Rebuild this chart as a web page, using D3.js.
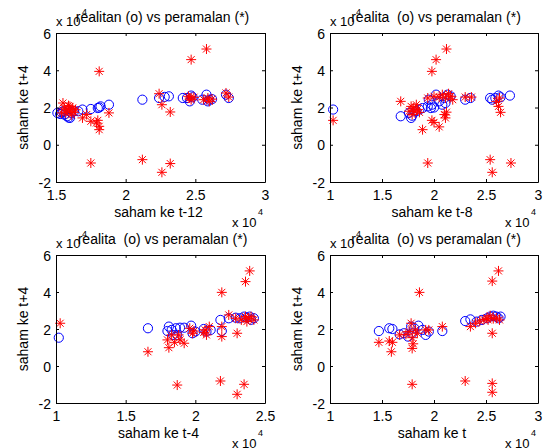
<!DOCTYPE html>
<html><head><meta charset="utf-8">
<script src="https://cdn.jsdelivr.net/npm/d3@7"></script>
<style>
body{margin:0;background:#fff;}
text{font-family:"Liberation Sans",Arial,sans-serif;fill:#000;}
</style></head>
<body><svg id="c" width="543" height="448"></svg>
<script>
// values in units of 10^4
const yTicks = [-2, 0, 2, 4, 6];
const xTicks1 = [1.5, 2, 2.5, 3];
const xTicks2 = [1, 1.5, 2, 2.5, 3];
const xTicks3 = [1, 1.5, 2, 2.5];
const xTicks4 = [1, 1.5, 2, 2.5, 3];
const titles = ["realitan (o) vs peramalan (*)", "realita  (o) vs peramalan (*)", "realita  (o) vs peramalan (*)", "realita  (o) vs peramalan (*)"];
const xLabels = ["saham ke t-12", "saham ke t-8", "saham ke t-4", "saham ke t"];
const yLabel = "saham ke t+4";

const real1 = [[1.51,1.71],[1.53,1.65],[1.54,1.74],[1.55,1.80],[1.56,1.62],[1.58,1.53],[1.59,1.46],[1.60,1.44],[1.61,1.71],[1.63,1.80],[1.66,1.80],[1.69,1.89],[1.75,1.92],[1.80,1.97],[1.82,2.06],[1.81,2.0],[1.88,2.15],
[2.12,2.42],[2.24,2.51],[2.28,2.57],[2.31,2.60],[2.41,2.51],[2.44,2.51],[2.47,2.64],[2.46,2.33],[2.48,2.55],[2.55,2.42],[2.58,2.69],[2.60,2.42],[2.59,2.33],[2.62,2.45],[2.72,2.69],[2.74,2.51]];
const pred1 = [[1.81,3.94],[2.47,4.57],[2.58,5.14],[1.75,-0.98],[2.12,-0.80],[2.26,-1.48],[2.32,-1.01],
[1.55,2.24],[1.56,1.97],[1.58,1.88],[1.60,1.80],[1.54,1.71],[1.57,1.71],[1.63,1.74],[1.64,1.88],[1.60,2.06],[1.62,1.97],[1.59,2.10],[1.61,1.60],
[1.69,1.44],[1.75,1.26],[1.80,1.31],[1.81,0.99],[1.81,0.81],[1.88,1.71],[1.79,1.17],[1.72,1.62],
[2.24,2.74],[2.26,2.15],[2.32,1.76],[2.45,2.60],[2.46,2.51],[2.47,2.42],[2.49,2.55],[2.56,2.42],[2.59,2.51],[2.60,2.33],[2.62,2.45],[2.72,2.78],[2.74,2.56]];

const real2 = [[1.03,1.89],[1.68,1.53],[1.76,1.71],[1.78,1.44],[1.79,1.56],[1.83,1.80],[1.86,1.89],[1.89,1.97],[1.94,2.06],[1.97,1.97],[1.98,2.15],[1.95,2.42],[2.02,2.69],[2.05,2.33],[2.08,2.15],[2.10,2.51],[2.13,2.69],[2.16,2.60],[2.11,2.24],[2.0,2.0],
[2.30,2.42],[2.35,2.51],[2.54,2.51],[2.56,2.42],[2.59,2.51],[2.62,2.64],[2.64,2.55],[2.73,2.64]];
const pred2 = [[1.03,1.31],[2.12,5.14],[2.02,4.57],[1.98,3.94],[1.94,-0.98],[2.54,-0.80],[2.56,-1.48],[2.74,-0.98],
[1.68,2.33],[1.78,2.06],[1.81,1.80],[1.79,1.62],[1.84,1.89],[1.76,1.80],[1.83,2.15],[1.80,1.97],[1.86,1.74],
[1.89,0.81],[1.98,1.31],[2.00,1.20],[2.05,0.96],[2.10,1.62],[2.11,1.44],[2.12,1.75],
[1.94,2.51],[2.00,2.60],[2.08,2.69],[2.11,2.51],[2.16,2.60],[2.18,2.42],[2.14,2.74],[2.05,2.55],
[2.30,2.56],[2.36,2.56],[2.60,2.33],[2.62,2.06],[2.64,1.74],[2.63,2.51]];

const real3 = [[1.02,1.53],[1.66,2.04],[1.80,1.89],[1.81,2.13],[1.83,1.95],[1.86,2.04],[1.89,2.07],[1.92,2.07],[1.97,2.18],[1.98,1.77],[1.84,1.68],[1.87,1.68],[2.00,1.86],[2.06,2.00],[2.08,1.86],[2.11,1.95],[2.18,2.49],[2.19,1.89],[2.24,2.58],[2.29,2.61],[2.32,2.58],[2.35,2.67],[2.37,2.61],[2.39,2.67],[2.42,2.58],[2.40,2.50]];
const pred3 = [[1.03,2.31],[1.66,0.77],[2.39,5.14],[2.36,4.56],[2.19,3.98],[1.87,-1.03],[2.18,-0.81],[2.30,-1.53],[2.35,-0.99],
[1.80,1.41],[1.81,0.99],[1.83,1.68],[1.85,1.28],[1.88,1.68],[1.89,1.41],[1.92,1.23],
[1.96,2.04],[1.98,1.77],[1.99,1.89],[2.07,1.95],[2.08,1.68],[2.06,1.82],[2.10,2.13],
[2.19,2.13],[2.19,1.59],[2.24,2.76],[2.30,1.77],[2.29,2.58],[2.33,2.49],[2.36,2.67],[2.38,2.58],[2.40,2.67],[2.42,2.49],[2.37,2.40]];

const real4 = [[1.47,1.89],[1.57,2.04],[1.60,2.00],[1.67,1.71],[1.71,1.77],[1.75,1.59],[1.78,2.13],[1.81,2.04],[1.85,2.18],[1.89,1.95],[1.92,1.68],[1.95,1.86],[2.08,1.89],[1.79,1.77],
[2.30,2.43],[2.35,2.52],[2.41,2.40],[2.46,2.49],[2.51,2.58],[2.54,2.67],[2.57,2.72],[2.60,2.67],[2.64,2.67],[2.62,2.58]];
const pred4 = [[1.47,1.28],[1.57,1.35],[1.60,1.28],[1.59,0.77],[1.86,3.98],[1.79,-0.99],[2.30,-0.81],[2.56,-0.94],[2.56,-1.42],
[1.67,1.68],[1.73,1.71],[1.78,2.31],[1.76,1.86],[1.79,1.53],[1.82,1.95],[1.79,0.95],[1.84,1.77],[1.92,1.95],[2.08,2.13],[1.95,1.95],[1.80,1.20],
[2.35,2.13],[2.40,2.31],[2.44,2.43],[2.48,2.52],[2.51,2.58],[2.54,2.72],[2.57,2.56],[2.60,2.60],[2.63,2.49],[2.56,1.77],[2.56,4.59],[2.62,5.14],[2.52,2.49]];

const panels = [
  {box:[56,265,33,182], xd:[1.5,3], xt:xTicks1, real:real1, pred:pred1},
  {box:[330,538,33,182], xd:[1,3], xt:xTicks2, real:real2, pred:pred2},
  {box:[56,265,255,403], xd:[1,2.5], xt:xTicks3, real:real3, pred:pred3},
  {box:[330,538,255,403], xd:[1,3], xt:xTicks4, real:real4, pred:pred4}
];

const svg = d3.select("#c");
const starPath = "M-5,0H5M0,-5V5M-3.5,-3.5L3.5,3.5M-3.5,3.5L3.5,-3.5";
const fmt = d => String(d);
const FS = "14px";

panels.forEach((p, i) => {
  const [l, r, t, b] = p.box;
  const x = d3.scaleLinear().domain(p.xd).range([l, r]);
  const y = d3.scaleLinear().domain([-2, 6]).range([b, t]);
  const g = svg.append("g");

  // points
  g.append("g").selectAll("circle").data(p.real).join("circle")
    .attr("cx", d => x(d[0])).attr("cy", d => y(d[1])).attr("r", 4.6)
    .attr("fill", "none").attr("stroke", "#0000ff").attr("stroke-width", 1);
  g.append("g").selectAll("path").data(p.pred).join("path")
    .attr("transform", d => `translate(${x(d[0])},${y(d[1])})`)
    .attr("d", starPath).attr("fill", "none").attr("stroke", "#ff0000").attr("stroke-width", 1);

  // axes (inward ticks, box)
  const ax = (gen, tr) => {
    const a = g.append("g").attr("transform", tr).call(gen);
    a.select(".domain").attr("stroke", "#000").attr("stroke-width", 1);
    a.selectAll(".tick line").attr("stroke", "#000");
    return a;
  };
  const bx = ax(d3.axisBottom(x).tickValues(p.xt).tickFormat(fmt).tickSize(-3).tickSizeOuter(0), `translate(0,${b})`);
  bx.selectAll("text").attr("y", 18).attr("dy", 0).style("font-size", FS)
    .style("font-family", "'Liberation Sans', Arial, sans-serif").attr("fill", "#000");
  ax(d3.axisTop(x).tickValues(p.xt).tickFormat("").tickSize(-3).tickSizeOuter(0), `translate(0,${t})`);
  const ly = ax(d3.axisLeft(y).tickValues(yTicks).tickFormat(fmt).tickSize(-3).tickSizeOuter(0), `translate(${l},0)`);
  ly.selectAll("text").attr("x", -5).attr("dy", "0.36em").style("font-size", FS)
    .style("font-family", "'Liberation Sans', Arial, sans-serif").attr("fill", "#000");
  ax(d3.axisRight(y).tickValues(yTicks).tickFormat("").tickSize(-3).tickSizeOuter(0), `translate(${r},0)`);

  // labels
  g.append("text").attr("x", (l + r) / 2 + 2).attr("y", t - 11).attr("text-anchor", "middle")
    .style("font-size", FS).style("white-space", "pre").text(titles[i]);
  g.append("text").attr("x", (l + r) / 2 - 2).attr("y", b + 35).attr("text-anchor", "middle")
    .style("font-size", FS).text(xLabels[i]);
  g.append("text").attr("transform", `translate(${l - 28},${(t + b) / 2}) rotate(-90)`)
    .attr("text-anchor", "middle").style("font-size", FS).text(yLabel);

  // exponent labels (the reference's y exponent sits over the title's first letter)
  g.append("text").attr("x", l).attr("y", t - 7).style("font-size", "13px").text("x 10");
  g.append("text").attr("x", l + 26).attr("y", t - 18).style("font-size", "9px").text("4");
  g.append("text").attr("x", r - 33).attr("y", b + 45).style("font-size", "13px").text("x 10");
  g.append("text").attr("x", r - 7).attr("y", b + 33).style("font-size", "9px").text("4");
});
</script></body></html>
